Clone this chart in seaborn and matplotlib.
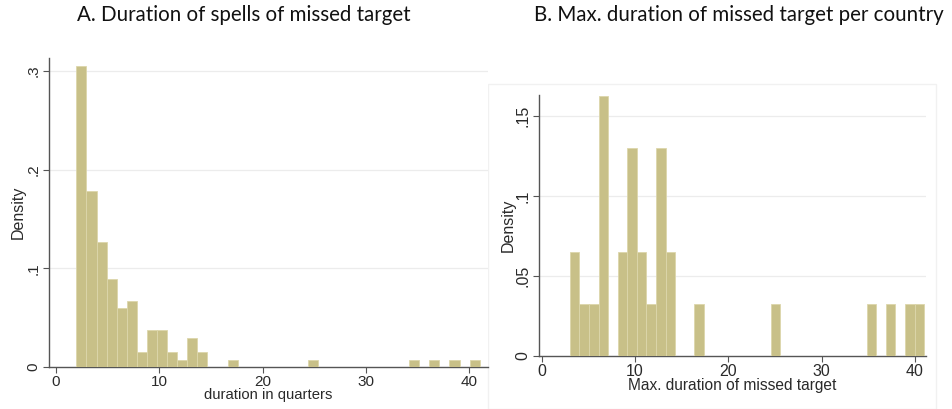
import numpy as np
import pandas as pd
import matplotlib
matplotlib.use("Agg")
import matplotlib.pyplot as plt
from matplotlib.patches import Rectangle
import seaborn as sns

# Panel A: spells of missed target, by duration in quarters (number of spells)
spell_duration = [2, 3, 4, 5, 6, 7, 8, 9, 10, 11, 12, 13, 14, 17, 25, 35, 37, 39, 41]
spell_count = [41, 24, 17, 12, 8, 9, 2, 5, 5, 2, 1, 4, 2, 1, 1, 1, 1, 1, 1]

# Panel B: longest spell per country (number of countries)
country_max_duration = [3, 4, 5, 6, 7, 9, 10, 11, 12, 13, 14, 17, 25, 35, 37, 39, 41]
country_count = [1, 1, 1, 1, 5, 2, 4, 2, 1, 4, 2, 1, 1, 1, 1, 1, 1]

x_ticks = [0, 10, 20, 30, 40]
a_yticks = [0, 0.1, 0.2, 0.3]
a_yticklabels = ["0", ".1", ".2", ".3"]
b_yticks = [0, 0.05, 0.1, 0.15]
b_yticklabels = ["0", ".05", ".1", ".15"]

title_a = "A. Duration of spells of missed target"
title_b = "B. Max. duration of missed target per country"
xlabel_a = "duration in quarters"
xlabel_b = "Max. duration of missed target"

sns.set_theme(style="white")
plt.rcParams["font.family"] = ["Liberation Sans", "DejaVu Sans"]

BAR = "#c8c088"
EDGE = "#dcd6ab"
AXIS = "#555555"
TXT = "#2a2a2a"
GRID = "#ececec"

fig = plt.figure(figsize=(9.53, 4.09), dpi=100)
W, H = 953, 409

# faint outline of the right-hand graph region
fig.add_artist(Rectangle((488 / W, 0.0), (936 - 488) / W, 1 - 84 / H,
                         transform=fig.transFigure, fill=False,
                         edgecolor="#f1f1f1", linewidth=1.0, zorder=0))

ax1 = fig.add_axes([49 / W, 42 / H, 439 / W, 309 / H])
ax2 = fig.add_axes([539 / W, 53 / H, 387 / W, 261 / H])

df_a = pd.DataFrame({"duration": spell_duration, "n": spell_count})
df_b = pd.DataFrame({"duration": country_max_duration, "n": country_count})

sns.histplot(data=df_a, x="duration", weights="n", bins=40, binrange=(2, 41),
             stat="density", color=BAR, edgecolor=EDGE, linewidth=0.6,
             alpha=1.0, ax=ax1, zorder=3)
sns.histplot(data=df_b, x="duration", weights="n", bins=37, binrange=(3, 41),
             stat="density", color=BAR, edgecolor=EDGE, linewidth=0.6,
             alpha=1.0, ax=ax2, zorder=3)


def style_axes(ax, xlim, ylim, yticks, yticklabels, xlabel, tick_fs, lab_fs,
               ylab_pad):
    ax.set_xlim(*xlim)
    ax.set_ylim(*ylim)
    ax.set_xticks(x_ticks)
    ax.set_xticklabels([str(t) for t in x_ticks])
    ax.set_yticks(yticks)
    ax.set_yticklabels(yticklabels, rotation=90, va="center")
    for y in yticks[1:]:
        ax.axhline(y, color=GRID, linewidth=0.9, zorder=1)
    for s in ["top", "right"]:
        ax.spines[s].set_visible(False)
    for s in ["left", "bottom"]:
        ax.spines[s].set_color(AXIS)
        ax.spines[s].set_linewidth(1.0)
    ax.tick_params(axis="both", which="major", direction="out", length=4,
                   width=0.8, color=AXIS, labelcolor=TXT, labelsize=tick_fs,
                   left=True, bottom=True, pad=2)
    ax.set_xlabel(xlabel, fontsize=lab_fs, color=TXT, labelpad=-1)
    ax.set_ylabel("Density", fontsize=11.5, color=TXT, labelpad=ylab_pad)
    ax.set_facecolor("white")


style_axes(ax1, (-0.65, 41.8), (0, 0.313), a_yticks, a_yticklabels, xlabel_a,
           11, 10.7, 1)
style_axes(ax2, (-0.3, 41.2), (0, 0.163), b_yticks, b_yticklabels, xlabel_b,
           11.5, 11.2, 0)

fig.text(244 / W, 1 - 15 / H, title_a, ha="center", va="center",
         fontsize=14.8, color="#111111", family=["Lato", "DejaVu Sans"])
fig.text(739 / W, 1 - 15 / H, title_b, ha="center", va="center",
         fontsize=14.8, color="#111111", family=["Lato", "DejaVu Sans"])

fig.savefig("out.png", dpi=100, facecolor="white")
